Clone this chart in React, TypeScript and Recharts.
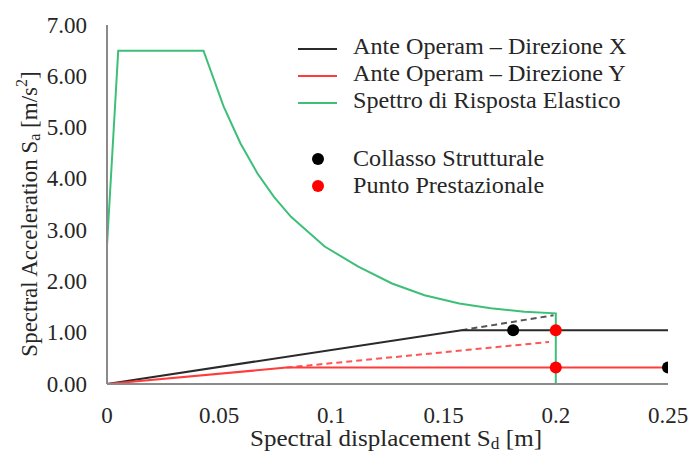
import React from "react";
import { ComposedChart, Line, Scatter, XAxis, YAxis } from "recharts";

// ---- data ----
const spectrumSd = [0, 0.005, 0.043, 0.052, 0.0595, 0.067, 0.0744, 0.082, 0.097, 0.112, 0.127, 0.1415, 0.157, 0.171, 0.186, 0.2, 0.2];
const spectrumSa = [2.7, 6.5, 6.5, 5.41, 4.69, 4.11, 3.65, 3.26, 2.68, 2.29, 1.96, 1.73, 1.57, 1.475, 1.41, 1.378, 0];

const dirXSd = [0, 0.158, 0.25];
const dirXSa = [0, 1.05, 1.05];
const dirXDashSd = [0.158, 0.199];
const dirXDashSa = [1.05, 1.34];

const dirYSd = [0, 0.08, 0.25];
const dirYSa = [0, 0.32, 0.32];
const dirYDashSd = [0.08, 0.197];
const dirYDashSa = [0.32, 0.82];

const collapseSd = [0.181, 0.25];
const collapseSa = [1.05, 0.32];
const perfSd = [0.2, 0.2];
const perfSa = [1.05, 0.32];

const xTicks = [0, 0.05, 0.1, 0.15, 0.2, 0.25];
const yTicks = [0, 1, 2, 3, 4, 5, 6, 7];

const legendLines = ["Ante Operam \u2013 Direzione X", "Ante Operam \u2013 Direzione Y", "Spettro di Risposta Elastico"];
const legendDots = ["Collasso Strutturale", "Punto Prestazionale"];

const zip = (xs: number[], ys: number[]) => xs.map((x, i) => ({ x, y: ys[i] }));

const FONT = "Liberation Serif";
const TEXT = "#262626";
const GREEN = "#3dbf78";
const BLACK = "#2a2a2a";
const RED = "#ff3b3b";

const XTick = (props: any) => {
  const { x, y, payload } = props;
  return (
    <text x={x} y={y} textAnchor="middle" dominantBaseline="central" fontFamily={FONT} fontSize={23} fill={TEXT}>
      {String(payload.value)}
    </text>
  );
};

const YTick = (props: any) => {
  const { x, y, payload } = props;
  return (
    <text x={x} y={y} textAnchor="end" dominantBaseline="central" fontFamily={FONT} fontSize={23} fill={TEXT}>
      {Number(payload.value).toFixed(2)}
    </text>
  );
};

export default function App() {
  const lineColors = [BLACK, RED, GREEN];
  const dotColors = ["#000000", "#ff0000"];
  return (
    <div style={{ position: "absolute", left: 0, top: 0, width: 692, height: 460, background: "#fff" }}>
      <ComposedChart width={692} height={460} margin={{ top: 25, right: 24, left: 0, bottom: 0 }}>
        <XAxis
          dataKey="x"
          type="number"
          domain={[0, 0.25]}
          ticks={xTicks}
          tickLine={false}
          tickSize={0}
          tickMargin={31}
          height={76}
          stroke="#8a8a8a"
          strokeWidth={2}
          tick={<XTick />}
          allowDataOverflow
        />
        <YAxis
          dataKey="y"
          type="number"
          domain={[0, 7]}
          ticks={yTicks}
          tickLine={false}
          tickSize={0}
          tickMargin={20}
          width={107}
          stroke="#8a8a8a"
          strokeWidth={2}
          tick={<YTick />}
          allowDataOverflow
        />
        <Line data={zip(spectrumSd, spectrumSa)} dataKey="y" stroke={GREEN} strokeWidth={2} dot={false} isAnimationActive={false} type="linear" />
        <Line data={zip(dirXDashSd, dirXDashSa)} dataKey="y" stroke="#555555" strokeWidth={2} strokeDasharray="6 4" dot={false} isAnimationActive={false} type="linear" />
        <Line data={zip(dirYDashSd, dirYDashSa)} dataKey="y" stroke="#ff5555" strokeWidth={2} strokeDasharray="6 4" dot={false} isAnimationActive={false} type="linear" />
        <Line data={zip(dirXSd, dirXSa)} dataKey="y" stroke={BLACK} strokeWidth={2} dot={false} isAnimationActive={false} type="linear" />
        <Line data={zip(dirYSd, dirYSa)} dataKey="y" stroke={RED} strokeWidth={2} dot={false} isAnimationActive={false} type="linear" />
        <Scatter data={zip(collapseSd, collapseSa)} dataKey="y" fill="#000000" isAnimationActive={false} shape={(p: any) => <circle cx={p.cx} cy={p.cy} r={6} fill="#000000" />} />
        <Scatter data={zip(perfSd, perfSa)} dataKey="y" fill="#ff0000" isAnimationActive={false} shape={(p: any) => <circle cx={p.cx} cy={p.cy} r={6} fill="#ff0000" />} />
      </ComposedChart>
      <svg width={692} height={460} style={{ position: "absolute", left: 0, top: 0, pointerEvents: "none" }}>
        {/* axis titles */}
        <text
          x={0}
          y={0}
          transform="translate(396,438) scale(1.09,1)"
          textAnchor="middle"
          dominantBaseline="central"
          fontFamily={FONT}
          fontSize={23}
          fill={TEXT}
        >
          Spectral displacement S<tspan dy={5} fontSize={16}>d</tspan>
          <tspan dy={-5}> [m]</tspan>
        </text>
        <text
          x={0}
          y={0}
          transform="translate(29,214) rotate(-90)"
          textAnchor="middle"
          dominantBaseline="central"
          fontFamily={FONT}
          fontSize={23}
          fill={TEXT}
        >
          Spectral Acceleration S<tspan dy={5} fontSize={16}>a</tspan>
          <tspan dy={-5}> [m/s</tspan>
          <tspan dy={-8} fontSize={16}>2</tspan>
          <tspan dy={8}>]</tspan>
        </text>
        {/* legend */}
        {legendLines.map((name, i) => (
          <g key={name}>
            <line x1={298} x2={337} y1={49 + i * 27} y2={49 + i * 27} stroke={lineColors[i]} strokeWidth={2} />
            <text
              x={0}
              y={0}
              transform={`translate(353,${46 + i * 27}) scale(1.05,1)`}
              dominantBaseline="central"
              fontFamily={FONT}
              fontSize={23}
              fill={TEXT}
            >
              {name}
            </text>
          </g>
        ))}
        {legendDots.map((name, i) => (
          <g key={name}>
            <circle cx={318} cy={159 + i * 27} r={6} fill={dotColors[i]} />
            <text
              x={0}
              y={0}
              transform={`translate(353,${158 + i * 27}) scale(1.05,1)`}
              dominantBaseline="central"
              fontFamily={FONT}
              fontSize={23}
              fill={TEXT}
            >
              {name}
            </text>
          </g>
        ))}
      </svg>
    </div>
  );
}
